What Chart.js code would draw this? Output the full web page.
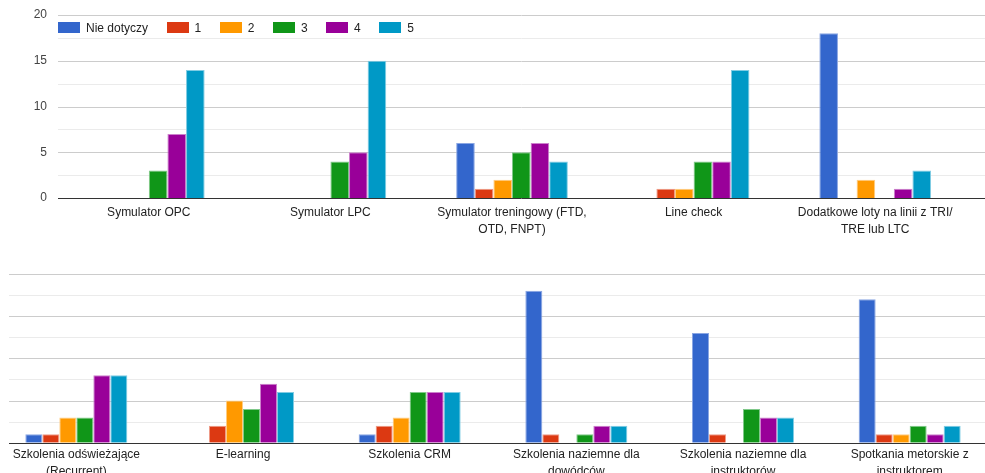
<!DOCTYPE html>
<html>
<head>
<meta charset="utf-8">
<script src="https://cdn.jsdelivr.net/npm/chart.js@4.4.1/dist/chart.umd.min.js"></script>
<style>
  html, body { margin: 0; padding: 0; background: #fff; overflow: hidden; width: 985px; height: 473px; }
  #gora { position: absolute; left: 0; top: 0; }
  #dol { position: absolute; left: -7px; top: 260px; }
  #legenda { position: absolute; left: 58px; top: 21px; display: flex; font: 12px "Liberation Sans", Arial, sans-serif; color: #222; }
  .poz { display: flex; align-items: center; margin-right: 18.5px; height: 13px; }
  .kolor { width: 22px; height: 11px; margin-right: 6px; }
</style>
</head>
<body>
<canvas id="gora" width="985" height="240"></canvas>
<canvas id="dol" width="1000" height="225"></canvas>
<div id="legenda"></div>
<script>
const serie = ["Nie dotyczy", "1", "2", "3", "4", "5"];
const kolory = ["#3366cc", "#dc3912", "#ff9900", "#109618", "#990099", "#0099c6"];
const obramowania = ["#8aa6e3", "#ee9a87", "#ffcc80", "#80c98a", "#cc80cc", "#80cce3"];

// gorny wykres
const kategorieGora = [
  "Symulator OPC",
  "Symulator LPC",
  ["Symulator treningowy (FTD,", "OTD, FNPT)"],
  "Line check",
  ["Dodatkowe loty na linii z TRI/", "TRE lub LTC"]
];
const nieDotyczyGora = [0, 0, 6, 0, 18];
const ocena1Gora = [0, 0, 1, 1, 0];
const ocena2Gora = [0, 0, 2, 1, 2];
const ocena3Gora = [3, 4, 5, 4, 0];
const ocena4Gora = [7, 5, 6, 4, 1];
const ocena5Gora = [14, 15, 4, 14, 3];

// dolny wykres
const kategorieDol = [
  ["Szkolenia odświeżające", "(Recurrent)"],
  "E-learning",
  "Szkolenia CRM",
  ["Szkolenia naziemne dla", "dowódców"],
  ["Szkolenia naziemne dla", "instruktorów"],
  ["Spotkania metorskie z", "instruktorem"]
];
const nieDotyczyDol = [1, 0, 1, 18, 13, 17];
const ocena1Dol = [1, 2, 2, 1, 1, 1];
const ocena2Dol = [3, 5, 3, 0, 0, 1];
const ocena3Dol = [3, 4, 6, 1, 4, 2];
const ocena4Dol = [8, 7, 6, 2, 3, 1];
const ocena5Dol = [8, 6, 6, 2, 3, 2];

const etykietyOsi = [0, 5, 10, 15, 20];
const czcionka = '"Liberation Sans", Arial, sans-serif';

// legenda w html
const $legenda = document.querySelector("#legenda");
serie.forEach((nazwa, i) => {
  const poz = document.createElement("div");
  poz.className = "poz";
  poz.innerHTML = `<span class="kolor" style="background:${kolory[i]}"></span><span>${nazwa}</span>`;
  $legenda.appendChild(poz);
});

// linie siatki i os zerowa
const siatka = {
  id: "siatka",
  beforeDatasetsDraw(chart, args, opts) {
    const { ctx } = chart;
    const y = chart.scales.y;
    ctx.save();
    ctx.lineWidth = 1;
    y.ticks.forEach((t) => {
      if (t.value === 0) return;
      const py = Math.round(y.getPixelForValue(t.value)) + 0.5;
      ctx.strokeStyle = t.value % 5 === 0 ? "#cccccc" : "#ebebeb";
      ctx.beginPath();
      ctx.moveTo(opts.od, py);
      ctx.lineTo(opts.do, py);
      ctx.stroke();
    });
    ctx.restore();
  },
  afterDatasetsDraw(chart, args, opts) {
    const { ctx } = chart;
    const y = chart.scales.y;
    const py = Math.round(y.getPixelForValue(0)) + 0.5;
    ctx.save();
    ctx.strokeStyle = "#333333";
    ctx.lineWidth = 1;
    ctx.beginPath();
    ctx.moveTo(opts.od, py);
    ctx.lineTo(opts.do, py);
    ctx.stroke();
    ctx.restore();
  }
};

function zestawy(dane, proc) {
  return dane.map((d, i) => ({
    label: serie[i],
    data: d,
    backgroundColor: kolory[i],
    borderColor: obramowania[i],
    borderWidth: (c) => (c.raw ? { top: 1, left: 1, right: 1, bottom: 0 } : 0),
    borderSkipped: "start",
    categoryPercentage: proc,
    barPercentage: 1
  }));
}

function opcje(pokazOs, szerOsi, wysOsi, odstep, padding, linie) {
  return {
    responsive: false,
    animation: false,
    layout: { padding },
    scales: {
      x: {
        grid: { display: false, drawTicks: false },
        border: { display: false },
        ticks: {
          color: "#222",
          padding: odstep,
          maxRotation: 0,
          autoSkip: false,
          font: { family: czcionka, size: 12, lineHeight: 1.4 }
        },
        afterFit: (s) => {
          s.height = wysOsi;
          s.paddingLeft = 0;
          s.paddingRight = 0;
        }
      },
      y: {
        min: 0,
        max: 20,
        grid: { display: false, drawTicks: false },
        border: { display: false },
        ticks: {
          display: pokazOs,
          stepSize: 2.5,
          color: "#444",
          padding: 11,
          font: { family: czcionka, size: 12 },
          callback: (v) => (etykietyOsi.includes(v) ? v : "")
        },
        afterFit: (s) => {
          s.width = szerOsi;
          s.paddingTop = 0;
          s.paddingBottom = 0;
        }
      }
    },
    plugins: {
      legend: { display: false },
      tooltip: { enabled: false },
      siatka: linie
    }
  };
}

new Chart(document.querySelector("#gora"), {
  type: "bar",
  data: {
    labels: kategorieGora,
    datasets: zestawy([nieDotyczyGora, ocena1Gora, ocena2Gora, ocena3Gora, ocena4Gora, ocena5Gora], 0.615)
  },
  options: opcje(true, 58, 42, 6, { top: 15, right: 19, left: 0, bottom: 0 }, { od: 58, do: 985 }),
  plugins: [siatka]
});

new Chart(document.querySelector("#dol"), {
  type: "bar",
  data: {
    labels: kategorieDol,
    datasets: zestawy([nieDotyczyDol, ocena1Dol, ocena2Dol, ocena3Dol, ocena4Dol, ocena5Dol], 0.612)
  },
  options: opcje(false, 0, 42.3, 4, { top: 14, right: 0, left: 0, bottom: 0 }, { od: 16, do: 992 }),
  plugins: [siatka]
});
</script>
</body>
</html>
